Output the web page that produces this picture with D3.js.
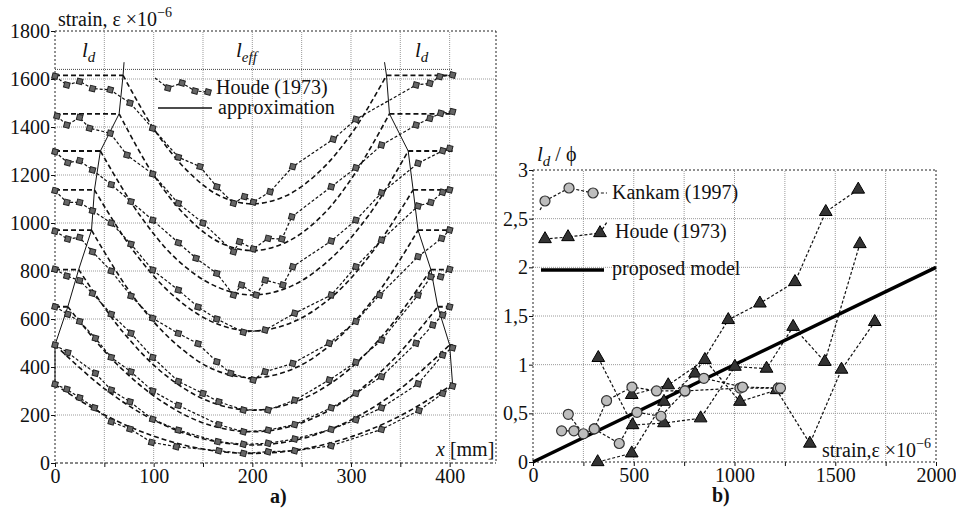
<!DOCTYPE html>
<html>
<head>
<meta charset="utf-8">
<script src="https://cdn.jsdelivr.net/npm/d3@7"></script>
<style>
  body { margin: 0; background: #fff; }
  svg text { font-family: "Liberation Serif", "DejaVu Serif", serif !important; fill: #111; }
</style>
</head>
<body>
<div id="chart"></div>
<script>
// ---- panel a) : strain along the bar, Houde (1973) ----
const xTicksA = [0, 50, 100, 150, 200, 250, 300, 350, 400];
const yTicksA = [0, 200, 400, 600, 800, 1000, 1200, 1400, 1600, 1800];

const levelPlateau = [1615, 1455, 1300, 1138, 970, 806, 651, 492, 327];
const levelLdLeft = [69, 65, 46, 40, 37, 24, 13, 0, 0];
const levelLdRight = [336, 339, 358, 363, 368, 381, 388, 400, 403];
const barEnd = 403;
const refLevel = 1640;

// measured strains (x in mm, strain)
const houde1 = [[0,1612],[12,1575],[25,1590],[38,1560],[56,1555],[76,1500],[99,1395],[125,1274],[147,1235],[164,1151],[181,1082],[192,1110],[201,1087],[218,1130],[241,1235],[282,1349],[305,1432],[366,1575],[380,1582],[390,1610],[403,1617]];
const houde2 = [[2,1446],[12,1408],[25,1440],[35,1395],[56,1374],[73,1283],[99,1204],[125,1082],[150,1000],[181,880],[187,922],[201,892],[216,936],[230,933],[240,1026],[280,1151],[305,1230],[331,1325],[366,1408],[380,1436],[391,1457],[403,1464]];
const houde3 = [[0,1297],[13,1251],[25,1260],[38,1221],[57,1160],[77,1089],[99,1012],[125,918],[143,853],[164,790],[181,700],[189,742],[204,700],[213,762],[231,742],[241,818],[280,925],[305,1012],[331,1126],[368,1249],[393,1301],[400,1311]];
const houde4 = [[0,1135],[12,1086],[25,1086],[38,1051],[57,1000],[77,912],[99,804],[125,721],[145,650],[164,600],[191,545],[213,554],[243,624],[280,700],[305,818],[331,929],[368,1071],[381,1086],[393,1128],[400,1138]];
const houde5 = [[0,966],[13,933],[25,940],[38,880],[57,800],[77,696],[99,603],[125,540],[145,497],[164,422],[178,374],[201,346],[213,380],[241,415],[278,499],[305,590],[329,700],[368,860],[392,936],[400,971]];
const houde6 = [[0,807],[12,779],[25,760],[38,707],[57,620],[77,541],[99,440],[125,340],[150,290],[166,255],[191,221],[216,221],[243,262],[278,346],[305,420],[331,512],[368,700],[381,776],[391,776],[400,807]];
const houde7 = [[0,651],[13,620],[25,590],[41,520],[57,440],[77,380],[99,300],[125,240],[166,160],[191,130],[216,137],[243,160],[280,230],[305,290],[331,360],[366,499],[383,575],[393,617],[400,651]];
const houde8 = [[0,492],[13,460],[41,374],[57,304],[76,255],[99,182],[125,137],[165,89],[191,78],[216,82],[243,100],[280,140],[305,180],[331,230],[368,330],[393,450],[403,480]];
const houde9 = [[0,328],[12,307],[25,272],[40,230],[57,172],[76,142],[98,86],[123,68],[166,51],[191,40],[216,47],[243,51],[280,72],[331,140],[369,219],[393,290],[403,321]];

// approximation curves between the two anchorage lengths
const approx1 = [[69,1615],[102,1381],[135,1214],[167,1113],[200,1080],[234,1113],[268,1214],[302,1381],[336,1615]];
const approx2 = [[65,1455],[99,1206],[133,1028],[166,921],[200,885],[235,921],[270,1028],[304,1206],[339,1455]];
const approx3 = [[46,1300],[85,1038],[123,850],[162,738],[200,700],[240,738],[279,850],[319,1038],[358,1300]];
const approx4 = [[40,1138],[80,881],[120,697],[160,587],[200,550],[241,587],[282,697],[322,881],[363,1138]];
const approx5 = [[37,970],[78,701],[119,509],[159,393],[200,355],[242,393],[284,509],[326,701],[368,970]];
const approx6 = [[24,806],[68,550],[112,366],[156,257],[200,220],[245,257],[291,366],[336,550],[381,806]];
const approx7 = [[13,651],[60,423],[107,260],[153,163],[200,130],[247,163],[294,260],[341,423],[388,651]];
const approx8 = [[0,492],[50,310],[100,179],[150,101],[200,75],[250,101],[300,179],[350,310],[400,492]];
const approx9 = [[0,327],[50,201],[100,112],[150,58],[200,40],[251,58],[302,112],[352,201],[403,327]];

// l_d boundaries (solid line)
const ldBoundLeft = [[0,327],[0,492],[13,651],[24,806],[37,970],[40,1138],[46,1300],[65,1455],[69,1615],[70,1670]];
const ldBoundRight = [[334,1670],[336,1615],[339,1455],[358,1300],[363,1138],[368,970],[381,806],[388,651],[400,492],[403,327]];

// ---- panel b) : l_d / phi versus strain ----
const xTicksB = [0, 250, 500, 750, 1000, 1250, 1500, 1750, 2000];
const yTicksB = [0, 0.5, 1, 1.5, 2, 2.5, 3];

const kankam1 = [[142,0.32],[203,0.32]];
const kankam2 = [[175,0.49],[250,0.29],[304,0.34],[365,0.63],[491,0.77],[613,0.73],[754,0.73],[1027,0.76],[1217,0.76]];
const kankam3 = [[304,0.34],[428,0.19],[516,0.51],[635,0.47],[754,0.73],[848,0.86],[1040,0.77],[1228,0.76]];

const houdeB1 = [[321,0.0],[490,0.09],[650,0.62],[804,0.91],[969,1.46],[1126,1.63],[1300,1.85],[1453,2.57],[1614,2.80]];
const houdeB2 = [[324,1.07],[494,0.38],[650,0.40],[832,0.45],[1002,0.98],[1159,0.96],[1291,1.39],[1448,1.03],[1622,2.24]];
const houdeB3 = [[490,0.69],[671,0.79],[853,1.05],[1027,0.62],[1209,0.74],[1374,0.19],[1531,0.95],[1696,1.44]];

const model = [[0,0],[2000,2]];

const houdeA = [houde1, houde2, houde3, houde4, houde5, houde6, houde7, houde8, houde9];
const approxA = [approx1, approx2, approx3, approx4, approx5, approx6, approx7, approx8, approx9];
const kankamB = [kankam1, kankam2, kankam3];
const houdeB = [houdeB1, houdeB2, houdeB3];

// ---- drawing ----
const FONT = '"Liberation Serif", "DejaVu Serif", serif';
const svg = d3.select('#chart').append('svg')
    .attr('width', 956)
    .attr('height', 511)
    .style('font-family', FONT);

const gridStyle = g => g.attr('stroke', '#9a9a9a').attr('stroke-width', 1).attr('stroke-dasharray', '1,1');
const frameStyle = g => g.attr('stroke', '#222').attr('stroke-width', 1).attr('stroke-dasharray', '2,2');

// panel a
const xA = d3.scaleLinear().domain([0, 447]).range([55, 496]);
const yA = d3.scaleLinear().domain([0, 1800]).range([463, 31]);

const gA = svg.append('g');

gA.selectAll('line.vgrid').data(xTicksA.slice(1))
    .enter().append('line')
    .attr('x1', d => xA(d)).attr('x2', d => xA(d))
    .attr('y1', yA(0)).attr('y2', yA(1800))
    .call(gridStyle);
gA.selectAll('line.hgrid').data(yTicksA.slice(1, -1))
    .enter().append('line')
    .attr('x1', xA(0)).attr('x2', xA(447))
    .attr('y1', d => yA(d)).attr('y2', d => yA(d))
    .call(gridStyle);

// frame
gA.append('line').attr('x1', xA(0)).attr('x2', xA(447)).attr('y1', yA(1800)).attr('y2', yA(1800)).call(frameStyle);
gA.append('line').attr('x1', xA(447)).attr('x2', xA(447)).attr('y1', yA(1800)).attr('y2', yA(0)).call(frameStyle);
gA.append('line').attr('x1', xA(0)).attr('x2', xA(0)).attr('y1', yA(1800)).attr('y2', yA(0)).call(frameStyle);
gA.append('line').attr('x1', xA(0)).attr('x2', xA(447)).attr('y1', yA(0)).attr('y2', yA(0))
    .attr('stroke', '#111').attr('stroke-dasharray', '3,2');

// reference line at top of anchorage
gA.append('line').attr('x1', xA(0)).attr('x2', xA(barEnd)).attr('y1', yA(refLevel)).attr('y2', yA(refLevel))
    .attr('stroke', '#444').attr('stroke-dasharray', '1,1');

function styleAxis(a) {
    a.attr('font-family', null).attr('font-size', null);
    a.select('.domain').remove();
    a.selectAll('text').style('font-size', '20px').style('font-family', FONT).attr('fill', '#111');
    a.selectAll('line').attr('stroke', '#111');
}

// axes
const axA_x = gA.append('g').attr('transform', `translate(0,${yA(0)})`)
    .call(d3.axisBottom(xA).tickValues(xTicksA).tickFormat(d => d % 100 === 0 ? String(d) : '').tickSize(4).tickPadding(2));
const axA_y = gA.append('g').attr('transform', `translate(${xA(0)},0)`)
    .call(d3.axisLeft(yA).tickValues(yTicksA).tickFormat(d => String(d)).tickSize(4).tickPadding(1));
styleAxis(axA_x);
styleAxis(axA_y);

const lineA = d3.line().x(d => xA(d[0])).y(d => yA(d[1]));
const curveA = d3.line().x(d => xA(d[0])).y(d => yA(d[1])).curve(d3.curveCatmullRom.alpha(0.5));

// plateaus
levelPlateau.forEach((p, i) => {
    if (levelLdLeft[i] > 0) {
        gA.append('path').attr('d', lineA([[0, p], [levelLdLeft[i], p]]))
            .attr('fill', 'none').attr('stroke', '#111').attr('stroke-width', 1.8).attr('stroke-dasharray', '5,3');
    }
    if (levelLdRight[i] < barEnd) {
        gA.append('path').attr('d', lineA([[levelLdRight[i], p], [barEnd, p]]))
            .attr('fill', 'none').attr('stroke', '#111').attr('stroke-width', 1.8).attr('stroke-dasharray', '5,3');
    }
});

// approximation curves
gA.selectAll('path.approx').data(approxA)
    .enter().append('path')
    .attr('d', d => curveA(d))
    .attr('fill', 'none').attr('stroke', '#111').attr('stroke-width', 1.6).attr('stroke-dasharray', '5,3');

// measured curves
gA.selectAll('path.houde').data(houdeA)
    .enter().append('path')
    .attr('d', d => lineA(d))
    .attr('fill', 'none').attr('stroke', '#111').attr('stroke-width', 1.2).attr('stroke-dasharray', '3,2');

// anchorage boundaries
[ldBoundLeft, ldBoundRight].forEach(b => {
    gA.append('path').attr('d', lineA(b)).attr('fill', 'none').attr('stroke', '#111').attr('stroke-width', 1);
});

const sqSym = d3.symbol().type(d3.symbolSquare).size(30);
gA.selectAll('path.mk').data(houdeA.flat())
    .enter().append('path')
    .attr('d', sqSym)
    .attr('transform', d => `translate(${xA(d[0])},${yA(d[1])}) rotate(15)`)
    .attr('fill', '#666').attr('stroke', '#222').attr('stroke-width', 1);

// panel a texts
const tA = gA.append('text').attr('x', 58).attr('y', 26).style('font-size', '20px');
tA.append('tspan').text('strain, ε ×10');
tA.append('tspan').attr('dy', -9).style('font-size', '14px').text('−6');

function ldLabel(x, y, sub) {
    const t = svg.append('text').attr('x', x).attr('y', y).style('font-size', '21px').style('font-style', 'italic');
    t.append('tspan').text('l');
    t.append('tspan').attr('dy', 5).style('font-size', '15px').text(sub);
    return t;
}
ldLabel(82, 57, 'd');
ldLabel(236, 57, 'eff');
ldLabel(415, 57, 'd');

const xl = gA.append('text').attr('x', 436).attr('y', 456).style('font-size', '20px');
xl.append('tspan').style('font-style', 'italic').text('x');
xl.append('tspan').text(' [mm]');

gA.append('text').attr('x', 270).attr('y', 503).style('font-size', '20px').style('font-weight', 'bold').text('a)');

// panel a legend
const legA = gA.append('g').attr('transform', 'translate(155,78)');
const legHoude = [[0,0],[13,10],[27,5],[40,13],[53,14]];
legA.append('path').attr('d', d3.line()(legHoude)).attr('fill', 'none')
    .attr('stroke', '#111').attr('stroke-width', 1.2).attr('stroke-dasharray', '3,2');
legA.selectAll('path.lm').data(legHoude.slice(1)).enter().append('path')
    .attr('d', sqSym).attr('transform', d => `translate(${d[0]},${d[1]}) rotate(15)`)
    .attr('fill', '#666').attr('stroke', '#222');
legA.append('text').attr('x', 61).attr('y', 16).style('font-size', '20px').text('Houde (1973)');
legA.append('line').attr('x1', 3).attr('x2', 57).attr('y1', 30).attr('y2', 30).attr('stroke', '#111').attr('stroke-width', 1.5);
legA.append('text').attr('x', 63).attr('y', 36).style('font-size', '20px').text('approximation');

// panel b
const xB = d3.scaleLinear().domain([0, 2000]).range([533, 936]);
const yB = d3.scaleLinear().domain([0, 3]).range([462, 170]);
const gB = svg.append('g');

gB.selectAll('line.vgrid').data(xTicksB.slice(1, -1))
    .enter().append('line')
    .attr('x1', d => xB(d)).attr('x2', d => xB(d))
    .attr('y1', yB(0)).attr('y2', yB(3))
    .call(gridStyle);
gB.selectAll('line.hgrid').data(yTicksB.slice(1, -1))
    .enter().append('line')
    .attr('x1', xB(0)).attr('x2', xB(2000))
    .attr('y1', d => yB(d)).attr('y2', d => yB(d))
    .call(gridStyle);

gB.append('line').attr('x1', xB(0)).attr('x2', xB(2000)).attr('y1', yB(3)).attr('y2', yB(3)).call(frameStyle);
gB.append('line').attr('x1', xB(2000)).attr('x2', xB(2000)).attr('y1', yB(3)).attr('y2', yB(0)).call(frameStyle);
gB.append('line').attr('x1', xB(0)).attr('x2', xB(0)).attr('y1', yB(3)).attr('y2', yB(0)).call(frameStyle);
gB.append('line').attr('x1', xB(0)).attr('x2', xB(2000)).attr('y1', yB(0)).attr('y2', yB(0)).call(frameStyle);

const axB_x = gB.append('g').attr('transform', `translate(0,${yB(0)})`)
    .call(d3.axisBottom(xB).tickValues(xTicksB).tickFormat(d => d % 500 === 0 ? String(d) : '').tickSize(4).tickPadding(2));
const axB_y = gB.append('g').attr('transform', `translate(${xB(0)},0)`)
    .call(d3.axisLeft(yB).tickValues(yTicksB).tickFormat(d => String(d).replace('.', ',')).tickSize(4).tickPadding(1));
styleAxis(axB_x);
styleAxis(axB_y);

const lineB = d3.line().x(d => xB(d[0])).y(d => yB(d[1]));

gB.selectAll('path.kk').data(kankamB).enter().append('path')
    .attr('d', d => lineB(d)).attr('fill', 'none')
    .attr('stroke', '#111').attr('stroke-width', 1.2).attr('stroke-dasharray', '3,2');
gB.selectAll('path.hb').data(houdeB).enter().append('path')
    .attr('d', d => lineB(d)).attr('fill', 'none')
    .attr('stroke', '#111').attr('stroke-width', 1.2).attr('stroke-dasharray', '3,2');

gB.append('path').attr('d', lineB(model)).attr('fill', 'none').attr('stroke', '#000').attr('stroke-width', 3.5);

const triSym = d3.symbol().type(d3.symbolTriangle).size(70);
gB.selectAll('path.tri').data(houdeB.flat()).enter().append('path')
    .attr('d', triSym)
    .attr('transform', d => `translate(${xB(d[0])},${yB(d[1])})`)
    .attr('fill', '#333').attr('stroke', '#000').attr('stroke-width', 1);
gB.selectAll('circle.kc').data(kankamB.flat()).enter().append('circle')
    .attr('cx', d => xB(d[0])).attr('cy', d => yB(d[1])).attr('r', 5)
    .attr('fill', '#bdbdbd').attr('stroke', '#333').attr('stroke-width', 1.2);

// panel b legend
const legB = gB.append('g').attr('transform', 'translate(540,200)');
const legKankam = [[0,10],[5,1],[29,-12],[53,-7],[67,-7]];
const legHoudeB = [[0,41],[5,39],[28,37],[60,33],[67,22]];
legB.append('path').attr('d', d3.line()(legKankam)).attr('fill', 'none')
    .attr('stroke', '#111').attr('stroke-width', 1.2).attr('stroke-dasharray', '3,2');
legB.append('path').attr('d', d3.line()(legHoudeB)).attr('fill', 'none')
    .attr('stroke', '#111').attr('stroke-width', 1.2).attr('stroke-dasharray', '3,2');
legB.selectAll('circle').data(legKankam.slice(1, 4)).enter().append('circle')
    .attr('cx', d => d[0]).attr('cy', d => d[1]).attr('r', 5)
    .attr('fill', '#bdbdbd').attr('stroke', '#333').attr('stroke-width', 1.2);
legB.selectAll('path.lt').data(legHoudeB.slice(1, 4)).enter().append('path')
    .attr('d', triSym).attr('transform', d => `translate(${d[0]},${d[1]})`)
    .attr('fill', '#333').attr('stroke', '#000');
legB.append('text').attr('x', 72).attr('y', -1).style('font-size', '20px').text('Kankam (1997)');
legB.append('text').attr('x', 75).attr('y', 38).style('font-size', '20px').text('Houde (1973)');
legB.append('line').attr('x1', 1).attr('x2', 64).attr('y1', 70).attr('y2', 70).attr('stroke', '#000').attr('stroke-width', 3.5);
legB.append('text').attr('x', 72).attr('y', 75).style('font-size', '20px').text('proposed model');

// panel b texts
const tB = ldLabel(537, 161, 'd');
tB.append('tspan').attr('dy', -5).style('font-style', 'normal').style('font-size', '20px').text(' / ϕ');

const sB = gB.append('text').attr('x', 822).attr('y', 457).style('font-size', '20px');
sB.append('tspan').text('strain,ε ×10');
sB.append('tspan').attr('dy', -9).style('font-size', '14px').text('−6');

gB.append('text').attr('x', 712).attr('y', 502).style('font-size', '20px').style('font-weight', 'bold').text('b)');
</script>
</body>
</html>
